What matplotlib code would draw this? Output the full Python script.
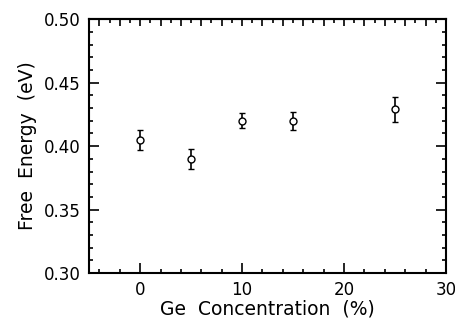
import numpy as np
import matplotlib
matplotlib.use("Agg")
import matplotlib.pyplot as plt
from matplotlib.ticker import MultipleLocator, NullFormatter

# data
ge_conc = [0, 5, 10, 15, 25]
free_energy = [0.405, 0.390, 0.420, 0.420, 0.429]
energy_err = [0.008, 0.008, 0.006, 0.007, 0.010]

fig = plt.figure(figsize=(4.55, 3.24), dpi=100)
ax = fig.add_axes([0.196, 0.157, 0.784, 0.784])

ax.errorbar(ge_conc, free_energy, yerr=energy_err, fmt='o', mfc='white', mec='black',
            ms=5, mew=1.0, ecolor='black', elinewidth=1.2, capsize=2.5, capthick=1.2)

ax.set_xlim(-5, 30)
ax.set_ylim(0.30, 0.50)
ax.xaxis.set_major_locator(MultipleLocator(10))
ax.xaxis.set_minor_locator(MultipleLocator(2))
ax.yaxis.set_major_locator(MultipleLocator(0.05))
ax.yaxis.set_minor_locator(MultipleLocator(0.01))
ax.set_yticklabels([f"{v:.2f}" for v in ax.get_yticks()])

ax.tick_params(which='both', direction='in', top=False, right=True, width=1.2,
               labelsize=12, pad=6)
ax.tick_params(which='major', length=7)
ax.tick_params(which='minor', length=3)
for s in ax.spines.values():
    s.set_linewidth(1.5)

# top axis: denser ticks, no labels
top = ax.secondary_xaxis('top')
top.xaxis.set_major_locator(MultipleLocator(2))
top.xaxis.set_minor_locator(MultipleLocator(1))
top.xaxis.set_major_formatter(NullFormatter())
top.tick_params(which='both', direction='in', width=1.2)
top.tick_params(which='major', length=5)
top.tick_params(which='minor', length=3)
top.spines['top'].set_linewidth(1.5)

ax.set_xlabel('Ge  Concentration  (%)', fontsize=13.5, labelpad=0)
ax.set_ylabel('Free  Energy  (eV)', fontsize=13.5, labelpad=5)

fig.savefig('out.png', dpi=100)
